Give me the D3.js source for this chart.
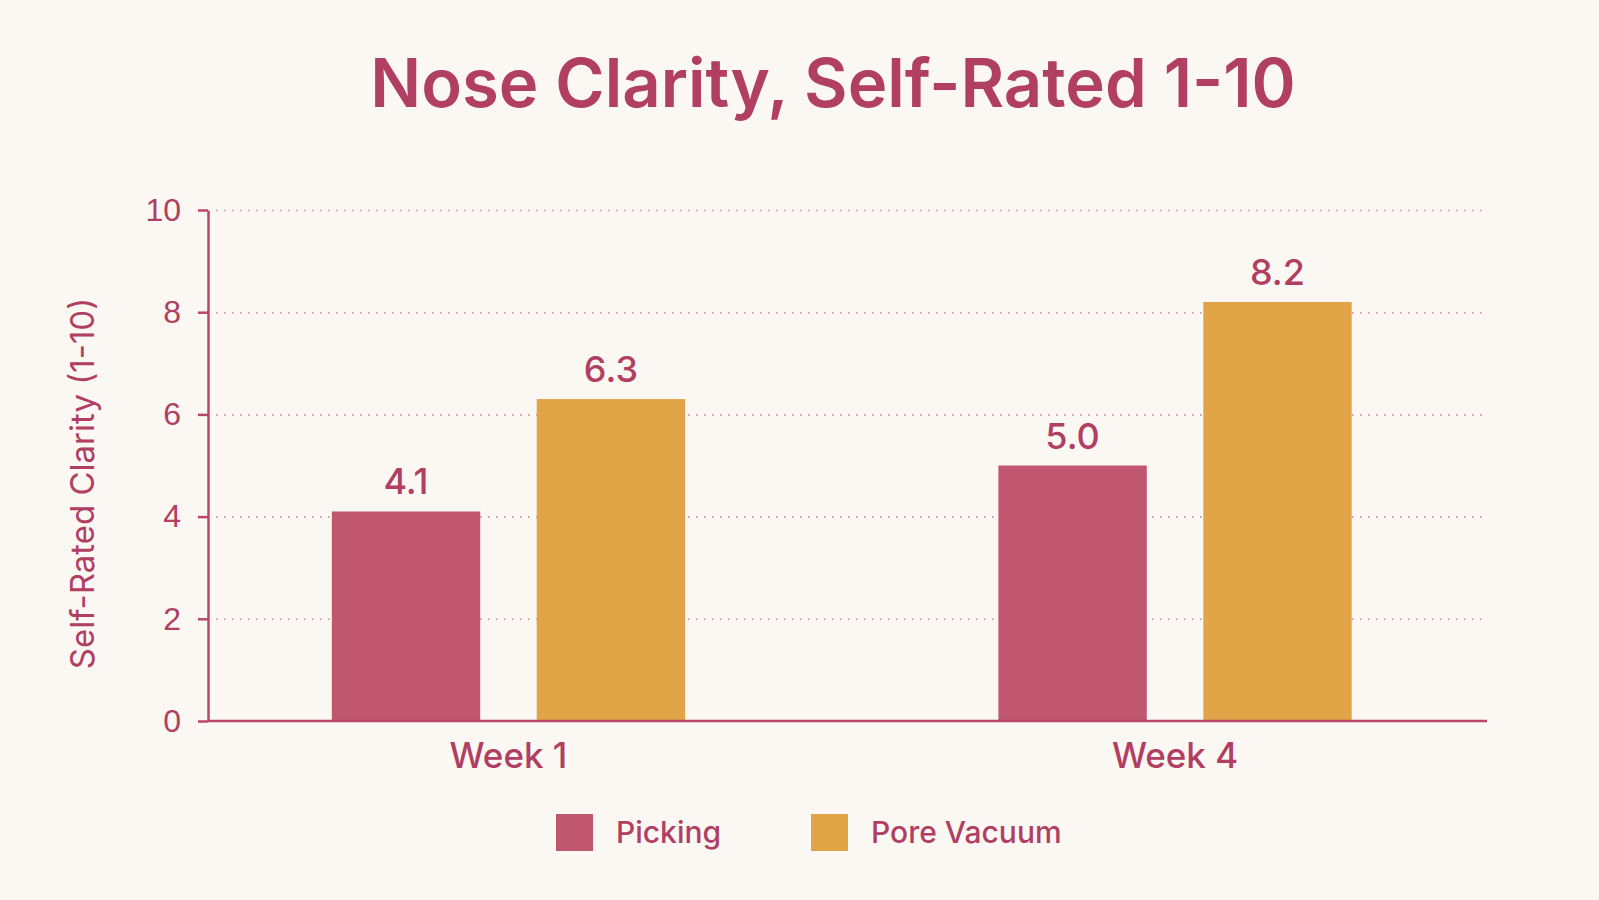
<!DOCTYPE html>
<meta charset="utf-8">
<style>
body { margin: 0; background: #fbf7f2; }
svg { display: block; font-family: Inter, "Noto Sans", sans-serif; }
.grid line { stroke: #d98c9e; stroke-width: 1.6px; stroke-dasharray: 1.6,6.4; }
.grid .domain { display: none; }
.yaxis .domain, .yaxis line { stroke: #b8476b; stroke-width: 2.5px; }
.yaxis text { fill: #b03f63; font-size: 32px; font-weight: 500; }
</style>
<body>
<script src="https://d3js.org/d3.v7.min.js"></script>
<script>

var weeks = ["Week 1", "Week 4"];
var seriesNames = ["Picking", "Pore Vacuum"];
var picking = [4.1, 5.0];
var poreVacuum = [6.3, 8.2];
var yTicks = [0, 2, 4, 6, 8, 10];

var colors = {"Picking": "#c0566f", "Pore Vacuum": "#e1a446"};
var textColor = "#b03f63";

var W = 1599, H = 900;
var plotLeft = 208, plotRight = 1487, plotTop = 210, plotBottom = 721;

var svg = d3.select("body").append("svg")
    .attr("width", W)
    .attr("height", H);

svg.append("rect").attr("width", W).attr("height", H).attr("fill", "#fbf7f2");

var x0 = d3.scaleBand().domain(weeks).range([198.5, 1485])
    .paddingInner(0.47).paddingOuter(0.2);
var x1 = d3.scaleBand().domain(seriesNames).range([0, x0.bandwidth()])
    .paddingInner(0.276).paddingOuter(0);
var y = d3.scaleLinear().domain([0, 10]).range([plotBottom, plotTop]);

// dotted grid
svg.append("g")
    .attr("class", "grid")
    .attr("transform", "translate(" + plotLeft + ",0)")
    .call(d3.axisRight(y).tickValues(yTicks.filter(function(d) { return d > 0; }))
        .tickSize(plotRight - plotLeft).tickFormat(""));
svg.selectAll(".grid line").attr("x1", 8);

var rows = weeks.map(function(w, i) {
  return {week: w, values: [
    {name: "Picking", value: picking[i]},
    {name: "Pore Vacuum", value: poreVacuum[i]}
  ]};
});

var groups = svg.selectAll(".group")
    .data(rows)
  .enter().append("g")
    .attr("transform", function(d) { return "translate(" + x0(d.week) + ",0)"; });

groups.selectAll("rect")
    .data(function(d) { return d.values; })
  .enter().append("rect")
    .attr("x", function(d) { return x1(d.name); })
    .attr("y", function(d) { return y(d.value); })
    .attr("width", x1.bandwidth())
    .attr("height", function(d) { return plotBottom - y(d.value); })
    .attr("fill", function(d) { return colors[d.name]; });

groups.selectAll(".val")
    .data(function(d) { return d.values; })
  .enter().append("text")
    .attr("x", function(d) { return x1(d.name) + x1.bandwidth() / 2; })
    .attr("y", function(d) { return y(d.value) - 17; })
    .attr("text-anchor", "middle")
    .attr("fill", textColor)
    .style("font-size", "36px")
    .style("font-weight", 500)
    .text(function(d) { return d.value.toFixed(1); });

// y axis
svg.append("g")
    .attr("class", "yaxis")
    .attr("transform", "translate(" + plotLeft + ",0)")
    .call(d3.axisLeft(y).tickValues(yTicks).tickSize(10).tickPadding(17).tickSizeOuter(0));

// x baseline
svg.append("line")
    .attr("x1", plotLeft).attr("x2", plotRight)
    .attr("y1", plotBottom).attr("y2", plotBottom)
    .attr("stroke", "#b8476b").attr("stroke-width", 2.5);

// x labels
svg.selectAll(".xlab")
    .data(weeks)
  .enter().append("text")
    .attr("x", function(d) { return x0(d) + x0.bandwidth() / 2; })
    .attr("y", plotBottom + 47)
    .attr("text-anchor", "middle")
    .attr("fill", textColor)
    .style("font-size", "35px")
    .style("font-weight", 500)
    .text(function(d) { return d; });

// title
svg.append("text")
    .attr("x", 833)
    .attr("y", 107)
    .attr("text-anchor", "middle")
    .attr("fill", textColor)
    .style("font-size", "67px")
    .style("font-weight", 600)
    .text("Nose Clarity, Self-Rated 1-10");

// y label
svg.append("text")
    .attr("transform", "translate(94," + ((plotTop + plotBottom) / 2 + 18) + ") rotate(-90)")
    .attr("text-anchor", "middle")
    .attr("fill", textColor)
    .style("font-size", "33px")
    .style("font-weight", 400)
    .text("Self-Rated Clarity (1-10)");

// legend
var legendX = [556, 811];
var legend = svg.selectAll(".legend")
    .data(seriesNames)
  .enter().append("g")
    .attr("transform", function(d, i) { return "translate(" + legendX[i] + ",814)"; });

legend.append("rect")
    .attr("width", 37).attr("height", 37)
    .attr("fill", function(d) { return colors[d]; });

legend.append("text")
    .attr("x", 60)
    .attr("y", 29)
    .attr("fill", textColor)
    .style("font-size", "30px")
    .style("font-weight", 500)
    .text(function(d) { return d; });

</script>
</body>
